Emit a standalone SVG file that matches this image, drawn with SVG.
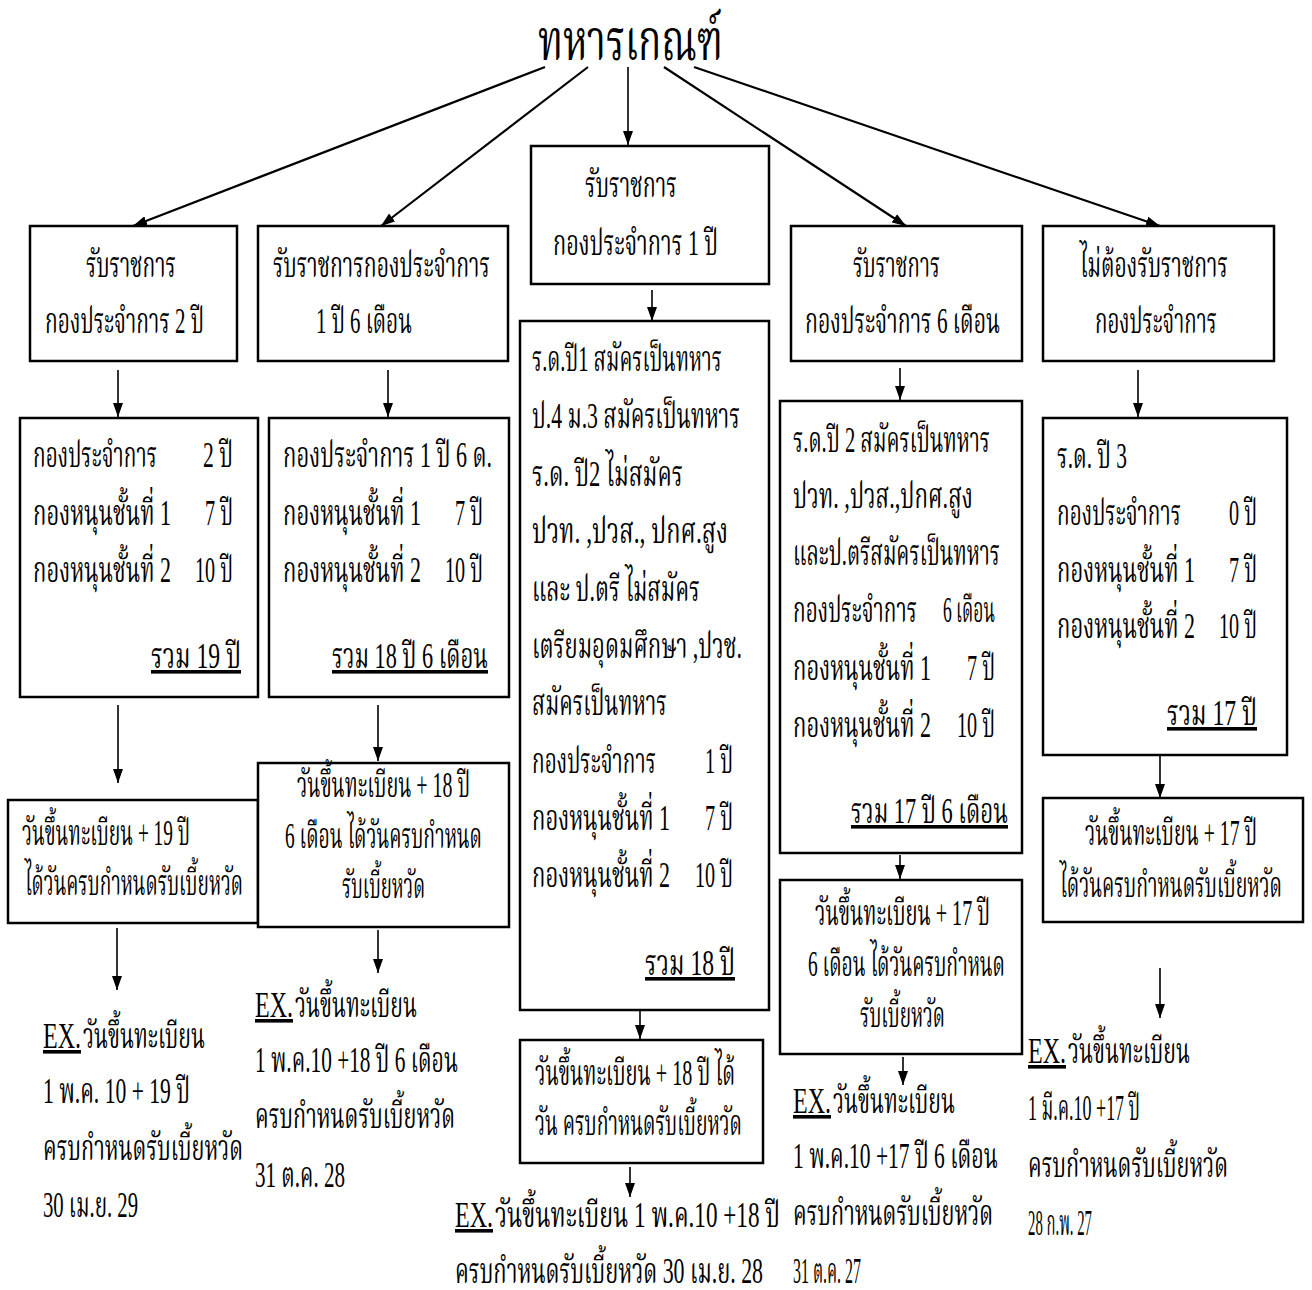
<svg xmlns="http://www.w3.org/2000/svg" width="1312" height="1290" viewBox="0 0 1312 1290">
  <defs>
    <marker id="ah" viewBox="0 0 14 10" refX="14" refY="5" markerWidth="14" markerHeight="10" markerUnits="userSpaceOnUse" orient="auto">
      <path d="M0,0 L14,5 L0,10 z" fill="#000"/>
    </marker>
    <style>
      .box { fill: #fff; stroke: #000; stroke-width: 2.5; }
      .c { stroke: #000; stroke-width: 1.6; fill: none; marker-end: url(#ah); }
      .d { stroke: #000; stroke-width: 2.2; fill: none; marker-end: url(#ah); }
      text { font-family: "Liberation Serif", "Noto Serif Thai", "Norasi", "Kinnari", serif; font-size: 36px; fill: #000; }
      .title { font-size: 58px; }
      .u { text-decoration: underline; }
      .e { text-anchor: end; }
    </style>
  </defs>
  <rect width="1312" height="1290" fill="#fff"/>

  <!-- connectors -->
  <g id="connectors">
    <line class="d" x1="545" y1="67" x2="133" y2="226"/>
    <line class="d" x1="588" y1="67" x2="381" y2="226"/>
    <line class="c" x1="628" y1="67" x2="628" y2="145"/>
    <line class="d" x1="664" y1="67" x2="906" y2="226"/>
    <line class="d" x1="694" y1="67" x2="1160" y2="226"/>

    <line class="c" x1="118" y1="370" x2="118" y2="417"/>
    <line class="c" x1="388" y1="370" x2="388" y2="417"/>
    <line class="c" x1="652" y1="290" x2="652" y2="321"/>
    <line class="c" x1="900" y1="368" x2="900" y2="400"/>
    <line class="c" x1="1138" y1="370" x2="1138" y2="417"/>

    <line class="c" x1="118" y1="705" x2="118" y2="783"/>
    <line class="c" x1="378" y1="705" x2="378" y2="761"/>
    <line class="c" x1="900" y1="855" x2="900" y2="879"/>
    <line class="c" x1="1160" y1="755" x2="1160" y2="798"/>
    <line class="c" x1="640" y1="1010" x2="640" y2="1039"/>

    <line class="c" x1="117" y1="928" x2="117" y2="990"/>
    <line class="c" x1="378" y1="930" x2="378" y2="973"/>
    <line class="c" x1="630" y1="1167" x2="630" y2="1197"/>
    <line class="c" x1="903" y1="1057" x2="903" y2="1085"/>
    <line class="c" x1="1160" y1="968" x2="1160" y2="1018"/>
  </g>

  <!-- root -->
  <g id="root">
    <text class="title" x="538" y="60" textLength="185" lengthAdjust="spacingAndGlyphs">ทหารเกณฑ์</text>
  </g>

  <!-- first row -->
  <g id="serve-2y">
    <rect class="box" x="30" y="226" width="207" height="135"/>
    <text x="86" y="277" textLength="90" lengthAdjust="spacingAndGlyphs">รับราชการ</text>
    <text x="45" y="333" textLength="159" lengthAdjust="spacingAndGlyphs">กองประจำการ 2 ปี</text>
  </g>
  <g id="serve-18m">
    <rect class="box" x="258" y="226" width="250" height="135"/>
    <text x="273" y="277" textLength="217" lengthAdjust="spacingAndGlyphs">รับราชการกองประจำการ</text>
    <text x="316" y="333" textLength="96" lengthAdjust="spacingAndGlyphs">1 ปี 6 เดือน</text>
  </g>
  <g id="serve-1y">
    <rect class="box" x="531" y="146" width="238" height="138"/>
    <text x="585" y="197" textLength="92" lengthAdjust="spacingAndGlyphs">รับราชการ</text>
    <text x="553" y="255" textLength="165" lengthAdjust="spacingAndGlyphs">กองประจำการ 1 ปี</text>
  </g>
  <g id="serve-6m">
    <rect class="box" x="791" y="226" width="231" height="135"/>
    <text x="853" y="277" textLength="87" lengthAdjust="spacingAndGlyphs">รับราชการ</text>
    <text x="805" y="333" textLength="195" lengthAdjust="spacingAndGlyphs">กองประจำการ 6 เดือน</text>
  </g>
  <g id="no-service">
    <rect class="box" x="1043" y="226" width="231" height="135"/>
    <text x="1080" y="277" textLength="148" lengthAdjust="spacingAndGlyphs">ไม่ต้องรับราชการ</text>
    <text x="1095" y="333" textLength="122" lengthAdjust="spacingAndGlyphs">กองประจำการ</text>
  </g>

  <!-- second row -->
  <g id="terms-2y">
    <rect class="box" x="20" y="418" width="238" height="279"/>
    <text x="33" y="467" textLength="124" lengthAdjust="spacingAndGlyphs">กองประจำการ</text>
    <text x="203" y="467" textLength="30" lengthAdjust="spacingAndGlyphs">2 ปี</text>
    <text x="33" y="525" textLength="138" lengthAdjust="spacingAndGlyphs">กองหนุนชั้นที่ 1</text>
    <text x="205" y="525" textLength="28" lengthAdjust="spacingAndGlyphs">7 ปี</text>
    <text x="33" y="582" textLength="138" lengthAdjust="spacingAndGlyphs">กองหนุนชั้นที่ 2</text>
    <text x="195" y="582" textLength="38" lengthAdjust="spacingAndGlyphs">10 ปี</text>
    <text class="u" x="151" y="668" textLength="90" lengthAdjust="spacingAndGlyphs">รวม  19 ปี</text>
  </g>
  <g id="terms-18m">
    <rect class="box" x="269" y="418" width="240" height="279"/>
    <text x="283" y="467" textLength="209" lengthAdjust="spacingAndGlyphs">กองประจำการ 1 ปี  6 ด.</text>
    <text x="283" y="525" textLength="138" lengthAdjust="spacingAndGlyphs">กองหนุนชั้นที่ 1</text>
    <text x="455" y="525" textLength="28" lengthAdjust="spacingAndGlyphs">7 ปี</text>
    <text x="283" y="582" textLength="138" lengthAdjust="spacingAndGlyphs">กองหนุนชั้นที่ 2</text>
    <text x="445" y="582" textLength="38" lengthAdjust="spacingAndGlyphs">10 ปี</text>
    <text class="u" x="332" y="668" textLength="156" lengthAdjust="spacingAndGlyphs">รวม  18 ปี 6 เดือน</text>
  </g>
  <g id="terms-1y">
    <rect class="box" x="520" y="321" width="249" height="689"/>
    <text x="532" y="371" textLength="190" lengthAdjust="spacingAndGlyphs">ร.ด.ปี1 สมัครเป็นทหาร</text>
    <text x="532" y="428" textLength="208" lengthAdjust="spacingAndGlyphs">ป.4 ม.3 สมัครเป็นทหาร</text>
    <text x="532" y="486" textLength="151" lengthAdjust="spacingAndGlyphs">ร.ด. ปี2 ไม่สมัคร</text>
    <text x="532" y="543" textLength="196" lengthAdjust="spacingAndGlyphs">ปวท. ,ปวส., ปกศ.สูง</text>
    <text x="532" y="601" textLength="168" lengthAdjust="spacingAndGlyphs">และ ป.ตรี ไม่สมัคร</text>
    <text x="532" y="658" textLength="210" lengthAdjust="spacingAndGlyphs">เตรียมอุดมศึกษา ,ปวช.</text>
    <text x="532" y="715" textLength="135" lengthAdjust="spacingAndGlyphs">สมัครเป็นทหาร</text>
    <text x="532" y="773" textLength="124" lengthAdjust="spacingAndGlyphs">กองประจำการ</text>
    <text x="705" y="773" textLength="28" lengthAdjust="spacingAndGlyphs">1 ปี</text>
    <text x="532" y="830" textLength="138" lengthAdjust="spacingAndGlyphs">กองหนุนชั้นที่ 1</text>
    <text x="705" y="830" textLength="28" lengthAdjust="spacingAndGlyphs">7 ปี</text>
    <text x="532" y="887" textLength="138" lengthAdjust="spacingAndGlyphs">กองหนุนชั้นที่ 2</text>
    <text x="695" y="887" textLength="38" lengthAdjust="spacingAndGlyphs">10 ปี</text>
    <text class="u" x="645" y="975" textLength="90" lengthAdjust="spacingAndGlyphs">รวม  18 ปี</text>
  </g>
  <g id="terms-6m">
    <rect class="box" x="780" y="401" width="242" height="452"/>
    <text x="793" y="452" textLength="197" lengthAdjust="spacingAndGlyphs">ร.ด.ปี 2 สมัครเป็นทหาร</text>
    <text x="793" y="508" textLength="180" lengthAdjust="spacingAndGlyphs">ปวท. ,ปวส.,ปกศ.สูง</text>
    <text x="793" y="565" textLength="207" lengthAdjust="spacingAndGlyphs">และป.ตรีสมัครเป็นทหาร</text>
    <text x="793" y="622" textLength="124" lengthAdjust="spacingAndGlyphs">กองประจำการ</text>
    <text x="943" y="622" textLength="52" lengthAdjust="spacingAndGlyphs">6 เดือน</text>
    <text x="793" y="680" textLength="138" lengthAdjust="spacingAndGlyphs">กองหนุนชั้นที่ 1</text>
    <text x="967" y="680" textLength="28" lengthAdjust="spacingAndGlyphs">7 ปี</text>
    <text x="793" y="737" textLength="138" lengthAdjust="spacingAndGlyphs">กองหนุนชั้นที่ 2</text>
    <text x="957" y="737" textLength="38" lengthAdjust="spacingAndGlyphs">10 ปี</text>
    <text class="u" x="851" y="823" textLength="157" lengthAdjust="spacingAndGlyphs">รวม  17 ปี 6 เดือน</text>
  </g>
  <g id="terms-0y">
    <rect class="box" x="1043" y="418" width="244" height="337"/>
    <text x="1057" y="468" textLength="70" lengthAdjust="spacingAndGlyphs">ร.ด. ปี 3</text>
    <text x="1057" y="525" textLength="124" lengthAdjust="spacingAndGlyphs">กองประจำการ</text>
    <text x="1229" y="525" textLength="28" lengthAdjust="spacingAndGlyphs">0 ปี</text>
    <text x="1057" y="582" textLength="138" lengthAdjust="spacingAndGlyphs">กองหนุนชั้นที่ 1</text>
    <text x="1229" y="582" textLength="28" lengthAdjust="spacingAndGlyphs">7 ปี</text>
    <text x="1057" y="638" textLength="138" lengthAdjust="spacingAndGlyphs">กองหนุนชั้นที่ 2</text>
    <text x="1219" y="638" textLength="38" lengthAdjust="spacingAndGlyphs">10 ปี</text>
    <text class="u" x="1167" y="725" textLength="90" lengthAdjust="spacingAndGlyphs">รวม  17 ปี</text>
  </g>

  <!-- due-date rules -->
  <g id="due-19y">
    <rect class="box" x="8" y="800" width="250" height="123"/>
    <text x="22" y="845" textLength="168" lengthAdjust="spacingAndGlyphs">วันขึ้นทะเบียน + 19 ปี</text>
    <text x="25" y="895" textLength="218" lengthAdjust="spacingAndGlyphs">ได้วันครบกำหนดรับเบี้ยหวัด</text>
  </g>
  <g id="due-18y6m">
    <rect class="box" x="258" y="763" width="251" height="164"/>
    <text x="297" y="797" textLength="173" lengthAdjust="spacingAndGlyphs">วันขึ้นทะเบียน  + 18 ปี</text>
    <text x="285" y="848" textLength="197" lengthAdjust="spacingAndGlyphs">6 เดือน ได้วันครบกำหนด</text>
    <text x="342" y="898" textLength="83" lengthAdjust="spacingAndGlyphs">รับเบี้ยหวัด</text>
  </g>
  <g id="due-18y">
    <rect class="box" x="520" y="1040" width="243" height="123"/>
    <text x="535" y="1085" textLength="200" lengthAdjust="spacingAndGlyphs">วันขึ้นทะเบียน + 18 ปี ได้</text>
    <text x="535" y="1135" textLength="207" lengthAdjust="spacingAndGlyphs">วัน ครบกำหนดรับเบี้ยหวัด</text>
  </g>
  <g id="due-17y6m">
    <rect class="box" x="780" y="880" width="242" height="174"/>
    <text x="815" y="925" textLength="175" lengthAdjust="spacingAndGlyphs">วันขึ้นทะเบียน + 17 ปี</text>
    <text x="808" y="976" textLength="197" lengthAdjust="spacingAndGlyphs">6 เดือน ได้วันครบกำหนด</text>
    <text x="860" y="1027" textLength="85" lengthAdjust="spacingAndGlyphs">รับเบี้ยหวัด</text>
  </g>
  <g id="due-17y">
    <rect class="box" x="1043" y="798" width="260" height="124"/>
    <text x="1085" y="845" textLength="172" lengthAdjust="spacingAndGlyphs">วันขึ้นทะเบียน  + 17 ปี</text>
    <text x="1060" y="897" textLength="222" lengthAdjust="spacingAndGlyphs">ได้วันครบกำหนดรับเบี้ยหวัด</text>
  </g>

  <!-- worked examples -->
  <g id="example-19y">
    <text class="u" x="43" y="1048" textLength="38" lengthAdjust="spacingAndGlyphs">EX.</text>
    <text x="83" y="1048" textLength="122" lengthAdjust="spacingAndGlyphs">วันขึ้นทะเบียน</text>
    <text x="43" y="1103" textLength="147" lengthAdjust="spacingAndGlyphs">1 พ.ค. 10 + 19 ปี</text>
    <text x="43" y="1160" textLength="200" lengthAdjust="spacingAndGlyphs">ครบกำหนดรับเบี้ยหวัด</text>
    <text x="43" y="1217" textLength="95" lengthAdjust="spacingAndGlyphs">30 เม.ย. 29</text>
  </g>
  <g id="example-18y6m">
    <text class="u" x="255" y="1017" textLength="38" lengthAdjust="spacingAndGlyphs">EX.</text>
    <text x="295" y="1017" textLength="122" lengthAdjust="spacingAndGlyphs">วันขึ้นทะเบียน</text>
    <text x="255" y="1072" textLength="203" lengthAdjust="spacingAndGlyphs">1 พ.ค.10 +18 ปี 6 เดือน</text>
    <text x="255" y="1128" textLength="200" lengthAdjust="spacingAndGlyphs">ครบกำหนดรับเบี้ยหวัด</text>
    <text x="255" y="1187" textLength="90" lengthAdjust="spacingAndGlyphs">31 ต.ค. 28</text>
  </g>
  <g id="example-18y">
    <text class="u" x="455" y="1227" textLength="38" lengthAdjust="spacingAndGlyphs">EX.</text>
    <text x="495" y="1227" textLength="285" lengthAdjust="spacingAndGlyphs">วันขึ้นทะเบียน  1 พ.ค.10 +18 ปี</text>
    <text x="455" y="1283" textLength="308" lengthAdjust="spacingAndGlyphs">ครบกำหนดรับเบี้ยหวัด 30 เม.ย. 28</text>
  </g>
  <g id="example-17y6m">
    <text class="u" x="793" y="1113" textLength="38" lengthAdjust="spacingAndGlyphs">EX.</text>
    <text x="833" y="1113" textLength="122" lengthAdjust="spacingAndGlyphs">วันขึ้นทะเบียน</text>
    <text x="793" y="1168" textLength="205" lengthAdjust="spacingAndGlyphs">1 พ.ค.10 +17 ปี 6 เดือน</text>
    <text x="793" y="1225" textLength="200" lengthAdjust="spacingAndGlyphs">ครบกำหนดรับเบี้ยหวัด</text>
    <text x="793" y="1283" textLength="68" lengthAdjust="spacingAndGlyphs">31 ต.ค. 27</text>
  </g>
  <g id="example-17y">
    <text class="u" x="1028" y="1063" textLength="38" lengthAdjust="spacingAndGlyphs">EX.</text>
    <text x="1068" y="1063" textLength="122" lengthAdjust="spacingAndGlyphs">วันขึ้นทะเบียน</text>
    <text x="1028" y="1120" textLength="112" lengthAdjust="spacingAndGlyphs">1 มี.ค.10 +17 ปี</text>
    <text x="1028" y="1177" textLength="200" lengthAdjust="spacingAndGlyphs">ครบกำหนดรับเบี้ยหวัด</text>
    <text x="1028" y="1235" textLength="64" lengthAdjust="spacingAndGlyphs">28 ก.พ. 27</text>
  </g>
</svg>
